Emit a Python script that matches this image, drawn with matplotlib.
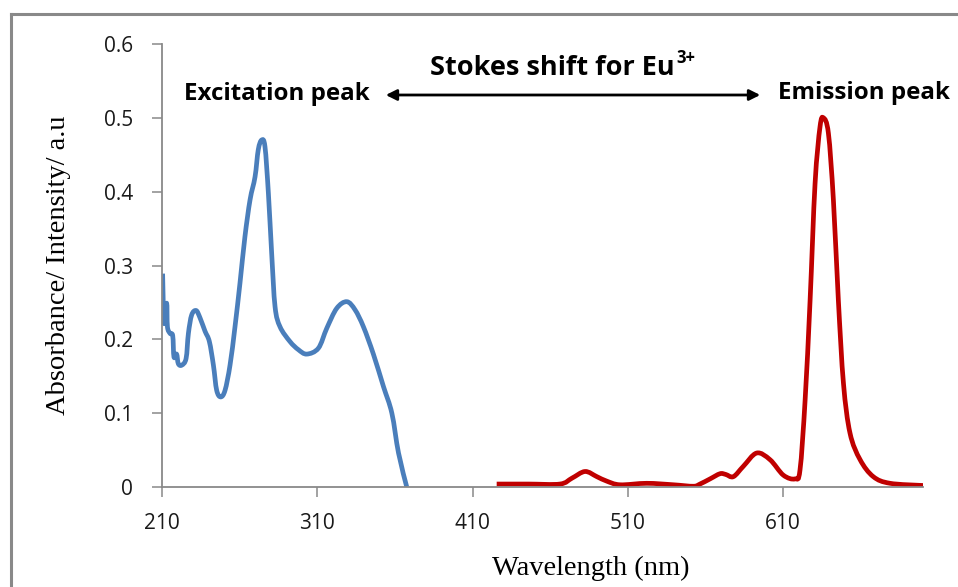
import numpy as np
import matplotlib
matplotlib.use('Agg')
import matplotlib.pyplot as plt
from matplotlib.lines import Line2D
from matplotlib.path import Path
from matplotlib.patches import PathPatch, FancyArrowPatch

# excitation (absorbance) spectrum
exc_nm = [210.4, 211.3, 213.0, 213.5, 215.2, 216.9, 217.7, 219.4, 220.5, 222.7,
          225.5, 227.0, 229.1, 232.0, 234.5, 237.7, 240.5, 243.1, 245.2, 247.8,
          250.6, 253.8, 257.0, 260.2, 263.4, 266.7, 269.9, 272.0, 274.2, 276.3,
          278.5, 280.6, 282.8, 286.0, 292.4, 297.8, 303.2, 310.7, 316.1, 322.5,
          329.0, 334.3, 339.7, 346.1, 352.6, 358.0, 362.3, 367.6]
exc_val = [0.289, 0.222, 0.249, 0.217, 0.208, 0.205, 0.176, 0.180, 0.167, 0.165,
           0.174, 0.208, 0.233, 0.239, 0.229, 0.211, 0.197, 0.165, 0.131, 0.122,
           0.131, 0.165, 0.217, 0.276, 0.339, 0.389, 0.420, 0.457, 0.470, 0.461,
           0.398, 0.317, 0.244, 0.217, 0.197, 0.186, 0.180, 0.188, 0.215, 0.242,
           0.251, 0.240, 0.217, 0.180, 0.136, 0.100, 0.046, 0.000]

# emission spectrum
emi_nm = [425.5, 446.0, 466.3, 474.0, 482.4, 490.0, 496.3, 504.9, 522.1, 539.3,
          552.2, 556.4, 562.9, 569.3, 573.0, 577.9, 584.3, 592.9, 601.5, 610.1,
          617.6, 620.8, 624.1, 627.3, 630.5, 633.7, 635.9, 639.1, 642.3, 645.5,
          648.8, 653.0, 659.5, 668.0, 678.8, 700.3]
emi_val = [0.004, 0.004, 0.004, 0.012, 0.021, 0.014, 0.008, 0.003, 0.005, 0.003,
           0.001, 0.004, 0.011, 0.018, 0.017, 0.014, 0.028, 0.046, 0.037, 0.016,
           0.011, 0.023, 0.118, 0.253, 0.411, 0.488, 0.500, 0.479, 0.389, 0.253,
           0.140, 0.073, 0.037, 0.014, 0.005, 0.002]

x_ticks = [210, 310, 410, 510, 610]
y_ticks = [0, 0.1, 0.2, 0.3, 0.4, 0.5, 0.6]
y_tick_labels = ['0', '0.1', '0.2', '0.3', '0.4', '0.5', '0.6']

W, H = 958, 587
gray = '#898989'


def smooth_path(xs, ys):
    # Excel-style "smoothed line": cubic bezier through every point
    p = np.column_stack([xs, ys])
    verts = [p[0]]
    codes = [Path.MOVETO]
    n = len(p)
    for i in range(n - 1):
        p0 = p[i - 1] if i > 0 else p[i]
        p3 = p[i + 2] if i + 2 < n else p[i + 1]
        c1 = p[i] + (p[i + 1] - p0) / 6.0
        c2 = p[i + 1] - (p3 - p[i]) / 6.0
        verts += [c1, c2, p[i + 1]]
        codes += [Path.CURVE4] * 3
    return Path(verts, codes)


fig = plt.figure(figsize=(W / 100, H / 100), dpi=100)
fig.patch.set_facecolor('white')
ax = fig.add_axes([162 / W, 1 - 487 / H, 761 / W, 443 / H])

ax.add_patch(PathPatch(smooth_path(exc_nm, exc_val), fill=False, edgecolor='#4a7ebb',
                       lw=3.4, joinstyle='round', capstyle='butt'))
ax.add_patch(PathPatch(smooth_path(emi_nm, emi_val), fill=False, edgecolor='#c00000',
                       lw=3.4, joinstyle='round', capstyle='butt'))

ax.set_xlim(210, 700)
ax.set_ylim(0, 0.6)
ax.set_xticks(x_ticks)
ax.set_xticklabels([str(t) for t in x_ticks])
ax.set_yticks(y_ticks)
ax.set_yticklabels(y_tick_labels)
for s in ['top', 'right']:
    ax.spines[s].set_visible(False)
for s in ['left', 'bottom']:
    ax.spines[s].set_color(gray)
    ax.spines[s].set_linewidth(1.3)
ax.tick_params(axis='both', direction='out', length=7, width=1.1, color=gray,
               labelsize=15, labelcolor='#1a1a1a')
ax.tick_params(axis='y', pad=14)
ax.tick_params(axis='x', pad=12)
for lab in ax.get_xticklabels() + ax.get_yticklabels():
    lab.set_fontfamily('Open Sans')

fig.text(59 / W, 1 - 265 / H, 'Absorbance/ Intensity/ a.u', rotation=90,
         ha='center', va='center', fontsize=20.5, family='Liberation Serif')
fig.text(591 / W, 1 - 568 / H, 'Wavelength (nm)', ha='center', va='center',
         fontsize=20.5, family='Liberation Serif')

fig.text(675 / W, 1 - 68 / H, 'Stokes shift for Eu', ha='right', va='center',
         fontsize=19.5, fontweight='bold', family='Open Sans')
fig.text(676 / W, 1 - 58 / H, '3+', ha='left', va='center',
         fontsize=12, fontweight='bold', family='Open Sans')
fig.text(370 / W, 1 - 94 / H, 'Excitation peak', ha='right', va='center',
         fontsize=17.4, fontweight='bold', family='Open Sans')
fig.text(778 / W, 1 - 93 / H, 'Emission peak', ha='left', va='center',
         fontsize=17.4, fontweight='bold', family='Open Sans')
fig.patches.append(FancyArrowPatch(
    (383 / W, 1 - 95 / H), (763 / W, 1 - 95 / H), transform=fig.transFigure,
    arrowstyle='<|-|>', mutation_scale=16, lw=2, color='black'))

# outer frame of the original chart (cropped at right and bottom)
fig.add_artist(Line2D([11 / W, 11 / W], [1 - 14 / H, 0], color=gray, lw=2.2))
fig.add_artist(Line2D([11 / W, 1], [1 - 14 / H, 1 - 14 / H], color=gray, lw=2.2))

fig.savefig('out.png', dpi=100, facecolor='white')
plt.close(fig)
